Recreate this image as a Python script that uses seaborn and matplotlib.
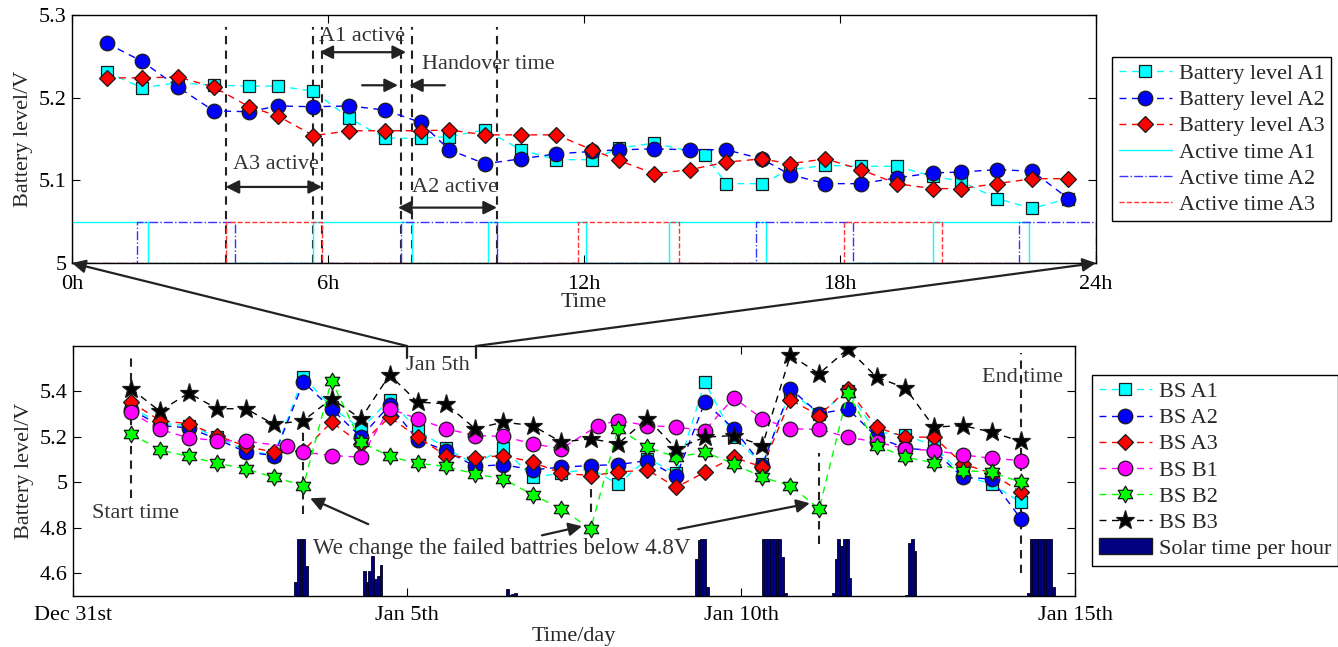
import matplotlib
matplotlib.use("Agg")
import matplotlib.pyplot as plt
import seaborn as sns
from matplotlib.path import Path
from matplotlib.patches import Patch, ConnectionPatch


# ---- top panel: zoom on one day (hours) ----
HOURS = [0.81, 1.64, 2.48, 3.32, 4.15, 4.82, 5.66, 6.50, 7.34, 8.17, 8.84, 9.68, 10.52, 11.35,
         12.19, 12.82, 13.65, 14.49, 15.33, 16.17, 16.82, 17.66, 18.49, 19.33, 20.17, 20.84,
         21.67, 22.51, 23.35]
HOURS_A1 = [0.81, 1.64, 2.48, 3.32, 4.15, 4.82, 5.66, 6.50, 7.34, 8.17, 8.84, 9.68, 10.52, 11.35,
            12.19, 12.82, 13.65, 14.83, 15.33, 16.17, 16.82, 17.66, 18.49, 19.33, 20.17, 20.84,
            21.67, 22.51, 23.35]
LEVEL_A1 = [5.231, 5.212, 5.218, 5.215, 5.214, 5.214, 5.208, 5.175, 5.151, 5.151, 5.153, 5.161,
            5.137, 5.125, 5.125, 5.139, 5.145, 5.131, 5.096, 5.096, 5.113, 5.118, 5.117, 5.117,
            5.105, 5.099, 5.078, 5.066, 5.078]
LEVEL_A2 = [5.266, 5.244, 5.213, 5.184, 5.183, 5.190, 5.189, 5.190, 5.185, 5.170, 5.137, 5.120,
            5.126, 5.132, 5.135, 5.137, 5.138, 5.137, 5.137, 5.126, 5.107, 5.096, 5.096, 5.103,
            5.109, 5.110, 5.113, 5.111, 5.078]
LEVEL_A3 = [5.224, 5.224, 5.225, 5.213, 5.189, 5.178, 5.154, 5.160, 5.160, 5.160, 5.161, 5.155,
            5.155, 5.155, 5.137, 5.124, 5.108, 5.113, 5.122, 5.126, 5.120, 5.126, 5.113, 5.096,
            5.090, 5.090, 5.096, 5.102, 5.102]

ACTIVE_A1 = [(0, 1.77), (5.66, 7.96), (9.76, 12.05), (14.0, 16.27), (20.17, 22.44)]
ACTIVE_A2 = [(1.52, 3.82), (7.7, 9.97), (16.04, 18.3), (22.2, 24)]
ACTIVE_A3 = [(3.6, 5.87), (11.86, 14.22), (18.1, 20.38)]
ACTIVE_ON = 5.05
ACTIVE_OFF = 5.0
HANDOVER_LINES = [3.6, 5.66, 5.87, 7.7, 7.96, 9.97]

# ---- bottom panel: days since Dec 31st ----
DAYS = [0.87, 1.30, 1.73, 2.16, 2.59, 3.01, 3.45, 3.87, 4.31, 4.74, 5.16, 5.58, 6.02, 6.44,
        6.88, 7.31, 7.75, 8.16, 8.60, 9.03, 9.46, 9.89, 10.32, 10.74, 11.17, 11.60, 12.03,
        12.46, 12.89, 13.32, 13.75, 14.19]
DAYS_B1 = [0.87, 1.30, 1.73, 2.16, 2.59, 3.20, 3.45, 3.87, 4.31, 4.74, 5.16, 5.58, 6.02, 6.44,
           6.88, 7.31, 7.86, 8.16, 8.60, 9.03, 9.46, 9.89, 10.32, 10.74, 11.17, 11.60, 12.03,
           12.46, 12.89, 13.32, 13.75, 14.19]
BS_A1 = [5.33, 5.26, 5.25, 5.20, 5.14, 5.12, 5.465, 5.33, 5.236, 5.363, 5.231, 5.15, 5.08, 5.15,
         5.022, 5.04, 5.06, 4.993, 5.104, 5.04, 5.441, 5.199, 5.08, 5.40, 5.30, 5.40, 5.22, 5.209,
         5.16, 5.03, 4.993, 4.912]
BS_A2 = [5.32, 5.25, 5.24, 5.19, 5.133, 5.118, 5.441, 5.324, 5.199, 5.34, 5.187, 5.14, 5.07,
         5.078, 5.055, 5.067, 5.074, 5.078, 5.096, 5.026, 5.353, 5.236, 5.074, 5.412, 5.302,
         5.324, 5.20, 5.15, 5.14, 5.022, 5.015, 4.839]
BS_A3 = [5.353, 5.272, 5.258, 5.206, 5.158, 5.133, 5.14, 5.265, 5.17, 5.287, 5.199, 5.118, 5.108,
         5.118, 5.089, 5.04, 5.03, 5.045, 5.055, 4.978, 5.045, 5.111, 5.067, 5.363, 5.294, 5.412,
         5.243, 5.199, 5.199, 5.082, 5.04, 4.956]
BS_B1 = [5.309, 5.233, 5.196, 5.184, 5.181, 5.158, 5.133, 5.118, 5.111, 5.324, 5.28, 5.236,
         5.206, 5.202, 5.17, 5.148, 5.25, 5.272, 5.25, 5.243, 5.228, 5.372, 5.28, 5.236, 5.233,
         5.199, 5.177, 5.148, 5.14, 5.121, 5.106, 5.096]
BS_B2 = [5.214, 5.143, 5.114, 5.084, 5.059, 5.022, 4.986, 5.448, 5.177, 5.114, 5.084, 5.07,
         5.037, 5.015, 4.946, 4.883, 4.795, 5.236, 5.155, 5.111, 5.133, 5.082, 5.022, 4.986,
         4.883, 5.394, 5.162, 5.111, 5.086, 5.052, 5.045, 5.0]
BS_B3 = [5.412, 5.313, 5.393, 5.324, 5.324, 5.255, 5.272, 5.368, 5.28, 5.473, 5.353, 5.346,
         5.236, 5.265, 5.25, 5.177, 5.192, 5.17, 5.28, 5.148, 5.199, 5.206, 5.162, 5.559, 5.478,
         5.588, 5.463, 5.415, 5.243, 5.25, 5.221, 5.18]

# solar bars: first hour of each sunny spell (day) and bar tops (in V axis units)
SOLAR_START = [3.31, 4.34, 6.48, 9.31, 10.31, 11.36, 12.46, 14.28]
SOLAR_TOPS = [
    [4.56, 4.75, 4.75, 4.75, 4.63],
    [4.61, 4.56, 4.61, 4.677, 4.575, 4.59, 4.637],
    [4.53, 4.505, 4.51, 4.515],
    [4.663, 4.745, 4.75, 4.75, 4.538],
    [4.75, 4.75, 4.75, 4.75, 4.75, 4.75, 4.75, 4.67, 4.515],
    [4.515, 4.663, 4.75, 4.72, 4.75, 4.75, 4.58],
    [4.505, 4.735, 4.75, 4.70],
    [4.515, 4.75, 4.75, 4.75, 4.75, 4.75, 4.75, 4.75, 4.75, 4.538],
]
SOLAR_BASE = 4.5
CHANGE_LINES = [(0.87, 5.57, 4.93), (3.45, 5.27, 4.86), (7.75, 5.08, 4.87),
                (11.17, 5.13, 4.73), (14.19, 5.57, 4.60)]

W, H = 1338, 647
FS = 16
TXT = "#333333"
DASH = (0, (5, 4))

sns.set_theme(style="ticks")
plt.rcParams["font.family"] = ["Liberation Serif", "DejaVu Serif"]
plt.rcParams.update({
    "xtick.direction": "in", "ytick.direction": "in",
    "xtick.top": True, "ytick.right": True,
    "xtick.major.size": 6, "ytick.major.size": 6,
    "xtick.major.width": 0.8, "ytick.major.width": 0.8,
    "xtick.major.pad": 5, "ytick.major.pad": 4,
    "axes.linewidth": 1.0, "axes.edgecolor": "black",
    "xtick.color": "black", "ytick.color": "black",
    "xtick.labelsize": FS, "ytick.labelsize": FS,
})

HEXAGRAM = Path.unit_regular_star(6, 0.577)


def draw_series(ax, x, y, color, marker, size, label):
    sns.lineplot(x=x, y=y, ax=ax, color=color, linestyle=DASH, linewidth=1.0,
                 marker=marker, markersize=size, markerfacecolor=color,
                 markeredgecolor="k", markeredgewidth=0.9, label=label,
                 legend=False, sort=False, estimator=None, zorder=3)
    return ax.lines[-1]


def step_xy(intervals):
    xs, ys = [0], [ACTIVE_OFF]
    for start, end in intervals:
        xs += [start, start, end, end]
        ys += [ACTIVE_OFF, ACTIVE_ON, ACTIVE_ON, ACTIVE_OFF]
    xs.append(24)
    ys.append(ACTIVE_OFF)
    return xs, ys


def arrow(ax, start, end, style="-|>"):
    ax.annotate("", xy=end, xytext=start,
                arrowprops=dict(arrowstyle=style, color="#222222", lw=1.6,
                                mutation_scale=20, shrinkA=0, shrinkB=0))


fig = plt.figure(figsize=(W / 100, H / 100), dpi=100)
ax_top = fig.add_axes([72 / W, 1 - 263 / H, (1096 - 72) / W, (263 - 15) / H])
ax_bot = fig.add_axes([73 / W, 1 - 596 / H, (1075 - 73) / W, (596 - 346) / H])

# ---------------- top panel ----------------
top_handles = [
    draw_series(ax_top, HOURS_A1, LEVEL_A1, "#00ffff", "s", 9, "Battery level A1"),
    draw_series(ax_top, HOURS, LEVEL_A2, "#0000ff", "o", 10.5, "Battery level A2"),
    draw_series(ax_top, HOURS, LEVEL_A3, "#ff0000", "D", 8, "Battery level A3"),
]
for intervals, color, ls, label in [(ACTIVE_A1, "#00ffff", "-", "Active time A1"),
                                    (ACTIVE_A2, "#3333ff", "-.", "Active time A2"),
                                    (ACTIVE_A3, "#ff3333", "--", "Active time A3")]:
    xs, ys = step_xy(intervals)
    line, = ax_top.plot(xs, ys, color=color, linestyle=ls, linewidth=1.0, label=label, zorder=2)
    top_handles.append(line)

for h in HANDOVER_LINES:
    ax_top.plot([h, h], [5.0, 5.285], color="#222222", linestyle=(0, (4, 3)), linewidth=1.5, zorder=1)

ax_top.text(6.8, 5.274, "A1 active", fontsize=FS, color=TXT, ha="center", va="center")
arrow(ax_top, (5.8, 5.255), (7.83, 5.255), "<|-|>")
ax_top.text(9.75, 5.24, "Handover time", fontsize=FS, color=TXT, ha="center", va="center")
arrow(ax_top, (6.8, 5.215), (7.64, 5.215))
arrow(ax_top, (8.74, 5.215), (7.9, 5.215))
ax_top.text(4.78, 5.119, "A3 active", fontsize=FS, color=TXT, ha="center", va="center")
arrow(ax_top, (3.6, 5.092), (5.86, 5.092), "<|-|>")
ax_top.text(8.98, 5.091, "A2 active", fontsize=FS, color=TXT, ha="center", va="center")
arrow(ax_top, (7.64, 5.067), (9.96, 5.067), "<|-|>")

ax_top.set_xlim(0, 24)
ax_top.set_ylim(5.0, 5.3)
ax_top.set_xticks([0, 6, 12, 18, 24])
ax_top.set_xticklabels(["0h", "6h", "12h", "18h", "24h"])
ax_top.set_yticks([5.0, 5.1, 5.2, 5.3])
ax_top.set_yticklabels(["5", "5.1", "5.2", "5.3"])
ax_top.tick_params(axis="x", pad=9)
ax_top.set_xlabel("Time", fontsize=FS, labelpad=-1)
ax_top.set_ylabel("Battery level/V", fontsize=FS, labelpad=4)

# ---------------- bottom panel ----------------
for start, tops in zip(SOLAR_START, SOLAR_TOPS):
    xs = [start + k / 24 for k in range(len(tops))]
    ax_bot.bar(xs, [t - SOLAR_BASE for t in tops], bottom=SOLAR_BASE, width=1 / 24,
               align="edge", color="#000080", edgecolor="#000022", linewidth=0.6, zorder=1)

bot_handles = [
    draw_series(ax_bot, DAYS, BS_A1, "#00ffff", "s", 9, "BS A1"),
    draw_series(ax_bot, DAYS, BS_A2, "#0000ff", "o", 10.5, "BS A2"),
    draw_series(ax_bot, DAYS, BS_A3, "#ff0000", "D", 8, "BS A3"),
    draw_series(ax_bot, DAYS_B1, BS_B1, "#ff00ff", "o", 10.5, "BS B1"),
    draw_series(ax_bot, DAYS, BS_B2, "#00ff00", HEXAGRAM, 12, "BS B2"),
    draw_series(ax_bot, DAYS, BS_B3, "#000000", "*", 14, "BS B3"),
]
bot_handles.append(Patch(facecolor="#000080", edgecolor="k", label="Solar time per hour"))

for x, y0, y1 in CHANGE_LINES:
    ax_bot.plot([x, x], [y1, y0], color="#222222", linestyle=(0, (4, 3)), linewidth=1.5, zorder=2)

ax_bot.text(0.93, 4.864, "Start time", fontsize=FS, color=TXT, ha="center", va="center")
ax_bot.text(14.22, 5.463, "End time", fontsize=FS, color=TXT, ha="center", va="center")
ax_bot.text(5.46, 5.516, "Jan 5th", fontsize=FS, color=TXT, ha="center", va="center")
ax_bot.text(6.42, 4.71, "We change the failed battries below 4.8V", fontsize=FS + 0.5, color=TXT,
            ha="center", va="center")
arrow(ax_bot, (4.42, 4.816), (3.55, 4.93))
arrow(ax_bot, (7.02, 4.767), (7.62, 4.807))
arrow(ax_bot, (9.06, 4.794), (11.03, 4.908))

ax_bot.set_xlim(0, 15)
ax_bot.set_ylim(4.5, 5.6)
ax_bot.set_xticks([0, 5, 10, 15])
ax_bot.set_xticklabels(["Dec 31st", "Jan 5th", "Jan 10th", "Jan 15th"])
ax_bot.set_yticks([4.6, 4.8, 5.0, 5.2, 5.4])
ax_bot.set_yticklabels(["4.6", "4.8", "5", "5.2", "5.4"])
ax_bot.tick_params(axis="x", pad=7)
ax_bot.set_xlabel("Time/day", fontsize=FS, labelpad=2)
ax_bot.set_ylabel("Battery level/V", fontsize=FS, labelpad=4)

# zoom bracket between the panels
for day in [5.0, 6.03]:
    ax_bot.plot([day, day], [5.6, 5.547], color="#222222", linewidth=1.6, clip_on=False, zorder=4)
for day, hour in [(5.0, 0), (6.03, 24)]:
    con = ConnectionPatch(xyA=(day, 5.6), coordsA=ax_bot.transData, xyB=(hour, 5.0),
                          coordsB=ax_top.transData, arrowstyle="-|>", color="#222222",
                          lw=1.6, mutation_scale=20, shrinkA=0, shrinkB=0)
    fig.add_artist(con)

leg_kw = dict(fontsize=FS, frameon=True, fancybox=False, edgecolor="black", framealpha=1,
              handlelength=2.4, handletextpad=0.3, labelspacing=0.25, borderpad=0.3,
              borderaxespad=0, loc="upper left", numpoints=1)
leg1 = fig.legend(handles=top_handles, bbox_to_anchor=(1112 / W, 1 - 57 / H), **leg_kw)
leg2 = fig.legend(handles=bot_handles, bbox_to_anchor=(1092 / W, 1 - 375 / H), **leg_kw)
for leg in (leg1, leg2):
    leg.get_frame().set_linewidth(1.0)

fig.savefig("out.png", dpi=100)
